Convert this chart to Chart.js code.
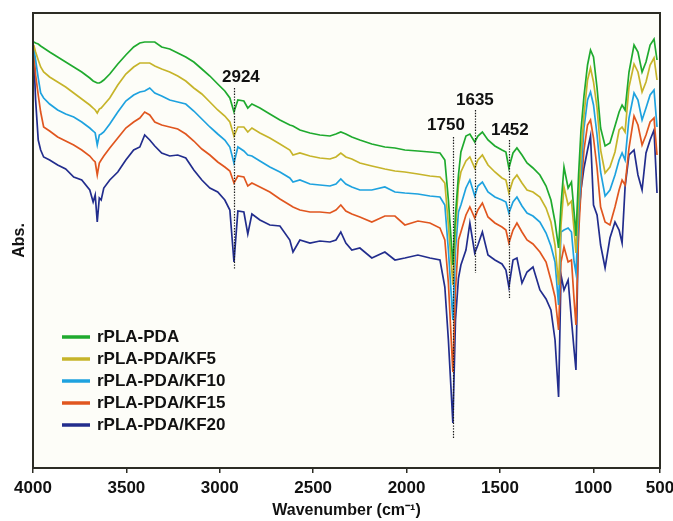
<!DOCTYPE html>
<html>
<head>
<meta charset="utf-8">
<script src="https://cdn.jsdelivr.net/npm/chart.js@4/dist/chart.umd.min.js"></script>
<style>
html,body{margin:0;padding:0;background:#ffffff;}
#wrap{width:673px;height:521px;}
</style>
</head>
<body>
<div id="wrap"><canvas id="c" width="673" height="521"></canvas></div>
<script>
// ---- data ----
const wavenumbers = [3996,3986,3972,3959,3943,3911,3868,3825,3782,3739,
3696,3678,3667,3656,3645,3635,3621,3589,3546,3503,
3461,3428,3402,3375,3348,3311,3268,3225,3182,3139,
3096,3053,3011,2973,2946,2924,2903,2871,2850,2828,
2785,2732,2678,2625,2608,2571,2517,2464,2410,2378,
2352,2325,2293,2250,2186,2116,2062,2009,1939,1875,
1821,1795,1776,1752,1738,1722,1709,1682,1661,1635,
1618,1594,1564,1527,1489,1468,1452,1430,1409,1382,
1355,1323,1286,1253,1227,1205,1186,1173,1157,1135,
1117,1103,1093,1079,1066,1050,1031,1015,999,980,
961,937,911,884,862,846,830,809,782,761,
739,718,696,675,659];

const seriesNames = ['rPLA-PDA','rPLA-PDA/KF5','rPLA-PDA/KF10','rPLA-PDA/KF15','rPLA-PDA/KF20'];

const absPDA = [4.26,4.25,4.24,4.22,4.20,4.16,4.11,4.06,4.01,3.96,
3.90,3.87,3.86,3.85,3.85,3.86,3.88,3.94,4.04,4.13,
4.21,4.25,4.26,4.26,4.26,4.21,4.19,4.15,4.11,4.06,
3.99,3.92,3.84,3.77,3.70,3.56,3.68,3.67,3.60,3.64,
3.60,3.54,3.48,3.43,3.42,3.38,3.35,3.33,3.32,3.34,
3.36,3.34,3.31,3.28,3.24,3.21,3.20,3.18,3.17,3.16,
3.15,3.08,2.68,2.03,2.53,2.93,3.16,3.32,3.34,3.26,
3.32,3.36,3.28,3.22,3.18,3.16,3.00,3.15,3.20,3.13,
3.05,3.00,2.93,2.82,2.68,2.46,2.20,2.63,3.01,2.80,
2.86,2.56,2.32,2.93,3.38,3.72,4.03,4.18,4.11,3.80,
3.40,3.22,3.25,3.42,3.56,3.63,3.58,3.96,4.23,4.16,
3.96,4.06,4.23,4.29,4.08];

const absKF5 = [4.23,4.16,4.08,4.01,3.96,3.91,3.86,3.81,3.75,3.69,
3.63,3.60,3.58,3.55,3.59,3.60,3.63,3.70,3.83,3.94,
4.01,4.05,4.05,4.05,4.02,3.99,3.96,3.92,3.87,3.80,
3.74,3.66,3.58,3.52,3.46,3.32,3.41,3.41,3.36,3.40,
3.35,3.30,3.24,3.18,3.13,3.15,3.12,3.10,3.09,3.11,
3.15,3.11,3.09,3.05,3.02,2.99,2.97,2.96,2.94,2.92,
2.91,2.85,2.43,1.83,2.38,2.83,2.96,3.07,3.11,3.00,
3.08,3.13,3.03,2.96,2.90,2.88,2.75,2.88,2.93,2.85,
2.78,2.76,2.71,2.60,2.46,2.23,1.83,2.43,2.81,2.63,
2.67,2.38,2.15,2.68,3.13,3.53,3.88,4.00,3.86,3.60,
3.18,2.95,3.01,3.16,3.38,3.41,3.36,3.81,4.04,3.96,
3.76,3.86,4.03,4.10,3.88];

const absKF10 = [4.20,4.08,3.90,3.75,3.70,3.64,3.58,3.54,3.51,3.46,
3.40,3.37,3.35,3.23,3.33,3.34,3.36,3.44,3.56,3.67,
3.73,3.76,3.77,3.80,3.75,3.72,3.68,3.66,3.64,3.57,
3.49,3.41,3.34,3.28,3.21,3.05,3.21,3.17,3.13,3.12,
3.07,3.01,2.96,2.90,2.86,2.88,2.84,2.83,2.82,2.84,
2.89,2.84,2.81,2.78,2.78,2.81,2.76,2.75,2.74,2.72,
2.71,2.63,2.18,1.48,2.18,2.56,2.63,2.80,2.88,2.72,
2.82,2.86,2.76,2.71,2.68,2.66,2.55,2.66,2.71,2.62,
2.55,2.52,2.46,2.35,2.22,2.06,1.63,2.36,2.38,2.40,
2.36,2.06,1.95,2.53,2.93,3.40,3.68,3.76,3.63,3.33,
2.96,2.72,2.78,2.93,3.08,3.15,3.08,3.50,3.75,3.68,
3.48,3.60,3.73,3.78,3.41];

const absKF15 = [4.18,3.93,3.73,3.56,3.41,3.37,3.31,3.27,3.23,3.18,
3.12,3.08,3.06,2.93,3.05,3.08,3.12,3.20,3.30,3.40,
3.46,3.50,3.56,3.53,3.46,3.43,3.41,3.39,3.34,3.27,
3.19,3.13,3.06,3.01,2.97,2.85,2.92,2.91,2.82,2.85,
2.81,2.76,2.69,2.63,2.61,2.58,2.56,2.56,2.55,2.58,
2.63,2.57,2.54,2.51,2.46,2.52,2.52,2.43,2.47,2.45,
2.40,2.28,1.85,0.96,1.78,2.28,2.36,2.53,2.61,2.50,
2.58,2.65,2.51,2.45,2.41,2.38,2.25,2.38,2.45,2.36,
2.28,2.24,2.16,2.06,1.88,1.71,1.38,2.06,2.21,2.06,
2.08,1.68,1.43,2.33,2.78,3.18,3.43,3.48,3.30,3.00,
2.61,2.46,2.43,2.61,2.78,2.88,2.83,3.20,3.52,3.43,
3.23,3.33,3.46,3.50,3.13];

const absKF20 = [4.13,3.68,3.28,3.18,3.11,3.08,3.03,2.99,2.91,2.88,
2.78,2.66,2.73,2.46,2.70,2.68,2.80,2.88,2.96,3.08,
3.18,3.21,3.33,3.28,3.22,3.15,3.12,3.13,3.10,2.98,
2.88,2.80,2.76,2.68,2.58,2.06,2.57,2.56,2.34,2.54,
2.48,2.43,2.42,2.28,2.16,2.28,2.25,2.27,2.26,2.28,
2.36,2.25,2.18,2.20,2.10,2.16,2.08,2.10,2.13,2.10,
2.08,1.81,1.28,0.45,1.48,1.90,2.03,2.18,2.45,2.15,
2.23,2.36,2.13,2.08,2.04,1.98,1.81,2.08,2.10,1.85,
1.96,2.01,1.78,1.69,1.58,1.28,0.71,1.93,1.78,1.88,
1.48,1.18,0.98,2.48,2.78,3.00,3.18,3.32,2.63,2.53,
2.23,2.00,2.30,2.46,2.38,2.25,2.81,3.13,3.18,2.93,
2.78,3.15,3.28,3.38,2.75];

const xTickValues = [4000,3500,3000,2500,2000,1500,1000];
const xTickLabels = ['4000','3500','3000','2500','2000','1500','1000','500'];

// peak annotations
const peakWn = [2924,1750,1635,1452];
const peakLabels = ['2924','1750','1635','1452'];
const peakLineTop = [3.80,3.31,3.58,3.28];
const peakLineBottom = [1.98,0.30,1.95,1.70];
const peakLabelWn = [2887,1789,1634,1447];
const peakLabelAbs = [3.91,3.43,3.68,3.38];

// ---- styling ----
const seriesColors = ['#1faa2e','#c6b42a','#1ea2df','#e0561f','#222d8d'];
const FONT = "'Liberation Sans', Arial, Helvetica, sans-serif";
const allSeries = [absPDA, absKF5, absKF10, absKF15, absKF20];

const datasets = allSeries.map((arr, k) => ({
  label: seriesNames[k],
  data: wavenumbers.map((w, i) => ({x: w, y: arr[i]})),
  borderColor: seriesColors[k],
  backgroundColor: seriesColors[k],
  borderWidth: 1.7,
  pointRadius: 0,
  tension: 0,
  fill: false
}));

const frameColor = '#2c2c24';

const bgPlugin = {
  id: 'bg',
  beforeDraw(chart) {
    const {ctx, chartArea: ca} = chart;
    ctx.save();
    ctx.fillStyle = '#ffffff';
    ctx.fillRect(0, 0, chart.width, chart.height);
    ctx.fillStyle = '#fdfdf8';
    ctx.fillRect(ca.left, ca.top, ca.right - ca.left, ca.bottom - ca.top);
    ctx.restore();
  }
};

const overlayPlugin = {
  id: 'overlay',
  afterDatasetsDraw(chart) {
    const {ctx, chartArea: ca} = chart;
    const xs = chart.scales.x, ys = chart.scales.y;
    ctx.save();
    // peak markers
    ctx.strokeStyle = '#1a1a1a';
    ctx.lineWidth = 1.2;
    ctx.setLineDash([1.4, 1.4]);
    peakWn.forEach((w, i) => {
      const x = Math.round(xs.getPixelForValue(w)) + 0.5;
      ctx.beginPath();
      ctx.moveTo(x, ys.getPixelForValue(peakLineTop[i]));
      ctx.lineTo(x, ys.getPixelForValue(peakLineBottom[i]));
      ctx.stroke();
    });
    ctx.setLineDash([]);
    ctx.fillStyle = '#111111';
    ctx.font = 'bold 17px ' + FONT;
    ctx.textAlign = 'center';
    ctx.textBaseline = 'middle';
    peakLabels.forEach((t, i) => {
      ctx.fillText(t, xs.getPixelForValue(peakLabelWn[i]), ys.getPixelForValue(peakLabelAbs[i]));
    });
    // legend
    const lx = ca.left + 29, ly = ca.top + 324, row = 22;
    chart.data.datasets.forEach((ds, i) => {
      const y = ly + i * row;
      ctx.strokeStyle = ds.borderColor;
      ctx.lineWidth = 3.5;
      ctx.beginPath();
      ctx.moveTo(lx, y);
      ctx.lineTo(lx + 28, y);
      ctx.stroke();
      ctx.fillStyle = '#111111';
      ctx.textAlign = 'left';
      ctx.fillText(ds.label, lx + 35, y);
    });
    // frame
    ctx.strokeStyle = frameColor;
    ctx.lineWidth = 2;
    ctx.strokeRect(ca.left, ca.top, ca.right - ca.left, ca.bottom - ca.top);
    ctx.restore();
  }
};

new Chart(document.getElementById('c'), {
  type: 'line',
  data: {datasets},
  options: {
    responsive: false,
    animation: false,
    devicePixelRatio: 1,
    layout: {padding: {top: 13, right: 13, left: 0, bottom: 0}},
    plugins: {legend: {display: false}, tooltip: {enabled: false}},
    scales: {
      x: {
        type: 'linear',
        reverse: true,
        min: 643,
        max: 4000,
        afterBuildTicks(scale) {
          scale.ticks = xTickValues.map(v => ({value: v})).concat([{value: scale.min}]);
        },
        afterFit(scale) {
          scale.height = 53;
          scale.paddingLeft = 0;
          scale.paddingRight = 0;
        },
        grid: {display: true, drawOnChartArea: false, drawTicks: true, tickLength: 5, color: frameColor, lineWidth: 1.5},
        border: {display: false},
        ticks: {
          autoSkip: false, maxRotation: 0, padding: 5,
          color: '#111111',
          font: {family: FONT, size: 17, weight: 'bold'},
          callback: (v, i) => xTickLabels[i]
        },
        title: {
          display: true, text: 'Wavenumber (cm\u207B\u00B9)', color: '#111111',
          font: {family: FONT, size: 16, weight: 'bold'},
          padding: {top: 0, bottom: 1}
        }
      },
      y: {
        min: 0,
        max: 4.55,
        afterFit(scale) { scale.width = 33; },
        grid: {display: false},
        border: {display: false},
        ticks: {display: false},
        title: {
          display: true, text: 'Abs.', color: '#111111',
          font: {family: FONT, size: 16, weight: 'bold'},
          padding: {top: 10, bottom: 0}
        }
      }
    }
  },
  plugins: [bgPlugin, overlayPlugin]
});
</script>
</body>
</html>
